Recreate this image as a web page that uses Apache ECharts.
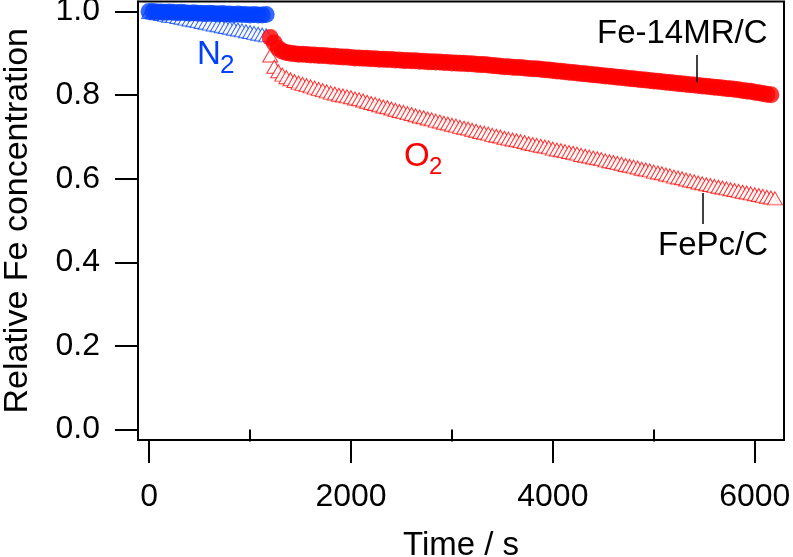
<!DOCTYPE html>
<html>
<head>
<meta charset="utf-8">
<script src="https://cdn.jsdelivr.net/npm/echarts@6/dist/echarts.min.js"></script>
<style>html,body{margin:0;padding:0;background:#fff}#c{width:793px;height:557px}</style>
</head>
<body>
<div id="c"></div>
<script>
// ---- data ----
const timeN2 = [0,40,80,120,160,200,240,280,320,360,400,440,480,520,560,600,640,680,720,760,800,840,880,920,960,1000,1040,1080,1120,1160];
const fe14mrN2 = [1.000,1.000,0.999,0.999,0.998,0.999,0.998,0.997,0.998,0.997,0.996,0.997,0.996,0.996,0.995,0.996,0.995,0.994,0.995,0.994,0.994,0.993,0.994,0.993,0.993,0.992,0.993,0.992,0.992,0.993];
const fepcN2 = [0.999,0.998,0.996,0.994,0.992,0.990,0.989,0.987,0.985,0.983,0.981,0.979,0.977,0.975,0.973,0.971,0.969,0.967,0.965,0.963,0.961,0.959,0.957,0.955,0.953,0.951,0.949,0.947,0.945,0.943];

const timeO2 = [1200,1240,1280,1320,1360,1400,1440,1480,1520,1560,1600,1640,1680,1720,1760,1800,1840,1880,1920,1960,
2000,2040,2080,2120,2160,2200,2240,2280,2320,2360,2400,2440,2480,2520,2560,2600,2640,2680,2720,2760,
2800,2840,2880,2920,2960,3000,3040,3080,3120,3160,3200,3240,3280,3320,3360,3400,3440,3480,3520,3560,
3600,3640,3680,3720,3760,3800,3840,3880,3920,3960,4000,4040,4080,4120,4160,4200,4240,4280,4320,4360,
4400,4440,4480,4520,4560,4600,4640,4680,4720,4760,4800,4840,4880,4920,4960,5000,5040,5080,5120,5160,
5200,5240,5280,5320,5360,5400,5440,5480,5520,5560,5600,5640,5680,5720,5760,5800,5840,5880,5920,5960,
6000,6040,6080,6120,6160,6200];
const fe14mrO2 = [0.938,0.925,0.912,0.905,0.902,0.900,0.899,0.898,0.898,0.897,0.896,0.896,0.895,0.895,0.894,0.893,0.893,0.892,0.891,0.891,
0.890,0.889,0.889,0.888,0.888,0.887,0.887,0.886,0.886,0.885,0.885,0.884,0.884,0.883,0.883,0.882,0.882,0.881,0.881,0.880,
0.880,0.879,0.879,0.878,0.878,0.877,0.877,0.876,0.876,0.875,0.875,0.874,0.873,0.873,0.872,0.871,0.870,0.869,0.868,0.868,
0.867,0.866,0.866,0.865,0.864,0.863,0.863,0.862,0.861,0.860,0.859,0.858,0.857,0.856,0.855,0.854,0.853,0.852,0.851,0.850,
0.849,0.848,0.847,0.846,0.845,0.844,0.843,0.842,0.841,0.840,0.839,0.838,0.837,0.836,0.835,0.834,0.833,0.832,0.831,0.830,
0.829,0.828,0.827,0.826,0.825,0.824,0.823,0.822,0.821,0.820,0.819,0.818,0.817,0.816,0.815,0.814,0.813,0.811,0.810,0.809,
0.807,0.806,0.804,0.802,0.801];
const fepcO2 = [0.895,0.868,0.857,0.849,0.843,0.838,0.834,0.830,0.827,0.824,0.821,0.818,0.815,0.812,0.809,0.806,0.804,0.801,0.799,0.797,
0.795,0.792,0.790,0.787,0.784,0.781,0.779,0.776,0.773,0.771,0.768,0.765,0.762,0.760,0.757,0.755,0.752,0.749,0.747,0.744,
0.742,0.739,0.737,0.734,0.732,0.729,0.727,0.724,0.722,0.720,0.717,0.715,0.712,0.710,0.708,0.705,0.703,0.701,0.698,0.696,
0.694,0.692,0.690,0.688,0.685,0.683,0.681,0.679,0.677,0.675,0.672,0.670,0.668,0.666,0.664,0.662,0.660,0.657,0.655,0.653,
0.651,0.649,0.647,0.644,0.642,0.640,0.638,0.636,0.633,0.631,0.629,0.627,0.624,0.622,0.620,0.617,0.615,0.613,0.610,0.608,
0.605,0.603,0.601,0.598,0.596,0.594,0.591,0.589,0.587,0.585,0.583,0.581,0.579,0.577,0.575,0.573,0.571,0.569,0.567,0.565,
0.563,0.561,0.559,0.557,0.555,0.553];

const xMajorTicks = [0,2000,4000,6000];
const xMinorTicks = [1000,3000,5000];
const yTicks = [0,0.2,0.4,0.6,0.8,1.0];

// ---- chart ----
const BLUE = '#0040ff', RED = '#ff0000';
const FONT = "'Liberation Sans', Arial, sans-serif";
const pairs = (t, v) => v.map((y, i) => [t[i], y]);

const chart = echarts.init(document.getElementById('c'), null, {renderer: 'canvas'});
const xRange = {min: -110, max: 6290};
chart.setOption({
  animation: false,
  backgroundColor: '#fff',
  textStyle: {fontFamily: FONT},
  grid: {left: 138, right: 9, top: 1.5, bottom: 117, containLabel: false, outerBoundsMode: 'none',
         show: true, borderColor: '#000', borderWidth: 2},
  xAxis: [{
    type: 'value', position: 'bottom', ...xRange,
    name: 'Time / s', nameLocation: 'middle', nameGap: 89, nameMoveOverlap: false,
    nameTextStyle: {fontSize: 33, color: '#000', fontFamily: FONT},
    axisLine: {show: true, onZero: false, lineStyle: {color: '#000', width: 2}},
    axisTick: {show: true, inside: false, length: 23, customValues: xMajorTicks, lineStyle: {color: '#000', width: 2}},
    axisLabel: {show: true, customValues: xMajorTicks, fontSize: 32, color: '#000', margin: 41, fontFamily: FONT,
      formatter: v => String(v)},
    splitLine: {show: false}
  }, {
    type: 'value', position: 'bottom', ...xRange,
    axisLine: {show: false},
    axisTick: {show: true, inside: false, length: 12, customValues: xMinorTicks, lineStyle: {color: '#000', width: 2}},
    axisLabel: {show: false},
    splitLine: {show: false}
  }],
  yAxis: {
    type: 'value', min: -0.025, max: 1.024,
    name: 'Relative Fe concentration', nameLocation: 'middle', nameGap: 103, nameMoveOverlap: false,
    nameTextStyle: {fontSize: 34, color: '#000', fontFamily: FONT},
    axisLine: {show: true, onZero: false, lineStyle: {color: '#000', width: 2}},
    axisTick: {show: true, inside: false, length: 23, customValues: yTicks, lineStyle: {color: '#000', width: 2}},
    axisLabel: {show: true, customValues: yTicks, fontSize: 32, color: '#000', margin: 38, fontFamily: FONT,
      formatter: v => v.toFixed(1)},
    splitLine: {show: false}
  },
  series: [
    {name: 'FePc/C N2', type: 'scatter', data: pairs(timeN2, fepcN2), symbol: 'triangle', symbolSize: [15, 13],
     itemStyle: {color: '#fff', borderColor: BLUE, borderWidth: 1}, z: 2},
    {name: 'FePc/C O2', type: 'scatter', data: pairs(timeO2, fepcO2), symbol: 'triangle', symbolSize: [15, 13],
     itemStyle: {color: '#fff', borderColor: RED, borderWidth: 1}, z: 2},
    {name: 'Fe-14MR/C N2', type: 'scatter', data: pairs(timeN2, fe14mrN2), symbol: 'circle', symbolSize: 17,
     itemStyle: {color: BLUE}, z: 3},
    {name: 'Fe-14MR/C O2', type: 'scatter', data: pairs(timeO2.slice(0, fe14mrO2.length), fe14mrO2), symbol: 'circle', symbolSize: 17,
     itemStyle: {color: RED}, z: 3}
  ],
  graphic: [
    {type: 'text', left: 197, top: 38, style: {text: 'N', fontSize: 33, fill: BLUE, fontFamily: FONT}},
    {type: 'text', left: 220, top: 53, style: {text: '2', fontSize: 26, fill: BLUE, fontFamily: FONT}},
    {type: 'text', left: 404, top: 140, style: {text: 'O', fontSize: 33, fill: RED, fontFamily: FONT}},
    {type: 'text', left: 429, top: 155, style: {text: '2', fontSize: 24, fill: RED, fontFamily: FONT}},
    {type: 'text', left: 597, top: 17, style: {text: 'Fe-14MR/C', fontSize: 33, fill: '#000', fontFamily: FONT}},
    {type: 'text', left: 658, top: 229, style: {text: 'FePc/C', fontSize: 33, fill: '#000', fontFamily: FONT}},
    {type: 'line', shape: {x1: 697, y1: 55, x2: 697, y2: 82}, style: {stroke: '#000', lineWidth: 1.5}, z: 10},
    {type: 'line', shape: {x1: 703, y1: 193, x2: 703, y2: 224}, style: {stroke: '#000', lineWidth: 1.5}, z: 10}
  ]
});
</script>
</body>
</html>
